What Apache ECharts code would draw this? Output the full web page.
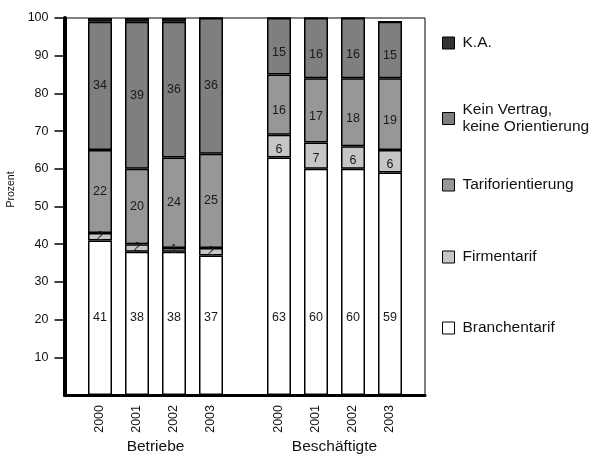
<!DOCTYPE html>
<html>
<head>
<meta charset="utf-8">
<script src="https://cdn.jsdelivr.net/npm/echarts@6/dist/echarts.min.js"></script>
<style>
  html, body { margin: 0; padding: 0; background: #fff; }
  #chart { width: 602px; height: 455px; }
</style>
</head>
<body>
<div id="chart"></div>
<script>
// Years shown under each group
const years = ['2000', '2001', '2002', '2003'];

// Betriebe (establishments), percent
const betriebeBranchentarif = [41, 38, 38, 37];
const betriebeFirmentarif = [2, 2, 1, 2];
const betriebeTariforientierung = [22, 20, 24, 25];
const betriebeKeinVertrag = [34, 39, 36, 36];
const betriebeKA = [1, 1, 1, 0];

// Beschäftigte (employees), percent
const beschBranchentarif = [63, 60, 60, 59];
const beschFirmentarif = [6, 7, 6, 6];
const beschTariforientierung = [16, 17, 18, 19];
const beschKeinVertrag = [15, 16, 16, 15];
const beschKA = [0, 0, 0, 0];

// Percent scale: ticks and labels from 10 to 100
const yTickValues = [10, 20, 30, 40, 50, 60, 70, 80, 90, 100];
const yRange = { min: 0, max: 100, interval: 10 };

const names = {
  ka: 'K.A.',
  kein: 'Kein Vertrag, keine Orientierung',
  tarif: 'Tariforientierung',
  firm: 'Firmentarif',
  branch: 'Branchentarif'
};
const colors = {
  ka: '#333333',
  kein: '#7f7f7f',
  tarif: '#979797',
  firm: '#c6c6c6',
  branch: '#ffffff'
};

const FONT = '"Liberation Sans", Arial, sans-serif';

function barSeries(key, data, axis, stack, labelCfg) {
  const s = {
    name: names[key],
    type: 'bar',
    stack: stack,
    xAxisIndex: axis,
    yAxisIndex: axis,
    data: data,
    barWidth: 24,
    itemStyle: { color: colors[key], borderColor: '#000', borderWidth: 1.5 },
    emphasis: { disabled: true },
    label: { show: false }
  };
  if (labelCfg) {
    s.label = Object.assign({
      show: true,
      color: '#1a1a1a',
      fontFamily: FONT,
      fontSize: 12.5
    }, labelCfg);
  }
  return s;
}

function groupSeries(axis, stack, branch, firm, tarif, kein, ka, shift) {
  return [
    barSeries('branch', branch, axis, stack, { position: 'insideBottom', distance: 71 }),
    barSeries('firm', firm, axis, stack, { position: 'inside', offset: [0, shift / 2] }),
    barSeries('tarif', tarif, axis, stack, { position: 'inside', offset: [0, shift] }),
    barSeries('kein', kein, axis, stack, { position: 'inside', offset: [0, shift] }),
    barSeries('ka', ka, axis, stack, null)
  ];
}

function legendItem(key, top, text) {
  return {
    data: [names[key]],
    left: 442,
    top: top,
    padding: 0,
    orient: 'vertical',
    icon: 'rect',
    itemWidth: 12,
    itemHeight: 12,
    selectedMode: false,
    itemStyle: { borderColor: '#000', borderWidth: 1 },
    formatter: text ? () => text : undefined,
    textStyle: {
      fontFamily: FONT,
      fontSize: 15.5,
      lineHeight: 17,
      color: '#111',
      padding: [0, 0, 0, 3]
    }
  };
}

function groupXAxis(grid, title) {
  return {
    type: 'category',
    gridIndex: grid,
    data: years,
    boundaryGap: true,
    axisLine: { show: false },
    axisTick: { show: false },
    splitLine: { show: false },
    axisLabel: {
      rotate: 90,
      margin: 10,
      fontFamily: FONT,
      fontSize: 12.5,
      color: '#111'
    },
    name: title,
    nameLocation: 'middle',
    nameGap: 44,
    nameMoveOverlap: false,
    nameTextStyle: { fontFamily: FONT, fontSize: 15.5, color: '#111' }
  };
}

function hiddenYAxis(grid) {
  return { type: 'value', gridIndex: grid, min: yRange.min, max: yRange.max, show: false };
}

const plotBox = { top: 18, bottom: 60, outerBoundsMode: 'none', containLabel: false };

const chart = echarts.init(document.getElementById('chart'), null, { renderer: 'canvas' });

chart.setOption({
  animation: false,
  backgroundColor: '#fff',
  grid: [
    // frame with the percent scale
    Object.assign({ left: 64.5, width: 360.5, show: true, borderColor: '#000', borderWidth: 1, backgroundColor: 'transparent' }, plotBox),
    // Betriebe bars
    Object.assign({ left: 81.5, width: 148 }, plotBox),
    // Beschäftigte bars
    Object.assign({ left: 260.5, width: 148 }, plotBox)
  ],
  xAxis: [
    {
      type: 'value', gridIndex: 0, min: 0, max: 1,
      axisLine: { show: true, lineStyle: { color: '#000', width: 3 } },
      axisTick: { show: false }, axisLabel: { show: false }, splitLine: { show: false }
    },
    groupXAxis(1, 'Betriebe'),
    groupXAxis(2, 'Beschäftigte')
  ],
  yAxis: [
    {
      type: 'value', gridIndex: 0,
      min: yRange.min, max: yRange.max, interval: yRange.interval,
      axisLine: { show: true, lineStyle: { color: '#000', width: 4 } },
      axisTick: {
        show: true, inside: false, length: 10,
        customValues: yTickValues,
        lineStyle: { color: '#000', width: 1.5 }
      },
      splitLine: { show: false },
      axisLabel: {
        margin: 16, fontFamily: FONT, fontSize: 12.5, color: '#111',
        customValues: yTickValues,
        formatter: (v) => (v === 0 ? '' : String(v))
      },
      name: 'Prozent',
      nameLocation: 'middle',
      nameGap: 40,
      nameTextStyle: { fontFamily: FONT, fontSize: 10.5, color: '#111', padding: [0, 0, 0, 34] }
    },
    hiddenYAxis(1),
    hiddenYAxis(2)
  ],
  legend: [
    legendItem('ka', 34.5),
    legendItem('kein', 101.5, 'Kein Vertrag,\nkeine Orientierung'),
    legendItem('tarif', 176.5),
    legendItem('firm', 248.5),
    legendItem('branch', 319.5)
  ],
  series: [].concat(
    groupSeries(1, 'betriebe', betriebeBranchentarif, betriebeFirmentarif,
      betriebeTariforientierung, betriebeKeinVertrag, betriebeKA, 0),
    groupSeries(2, 'besch', beschBranchentarif, beschFirmentarif,
      beschTariforientierung, beschKeinVertrag, beschKA, 6)
  )
});
</script>
</body>
</html>
